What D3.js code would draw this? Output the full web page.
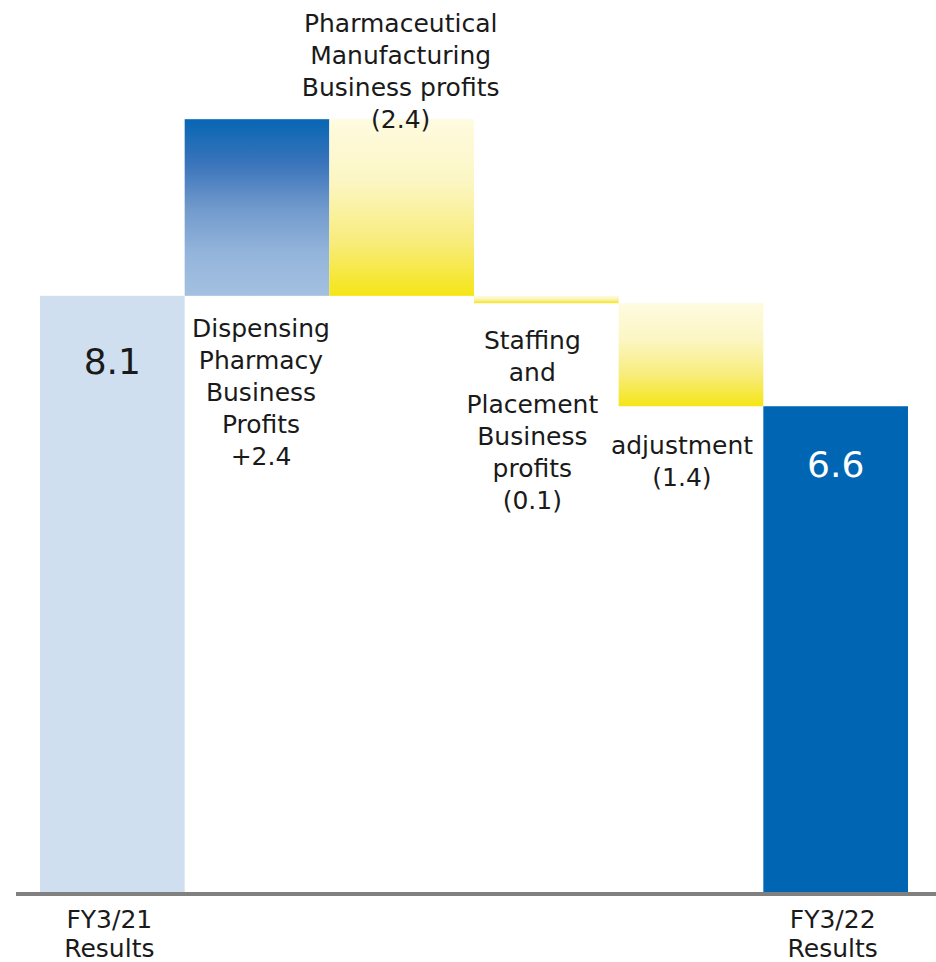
<!DOCTYPE html>
<html>
<head>
<meta charset="utf-8">
<script src="https://cdn.jsdelivr.net/npm/d3@7/dist/d3.min.js"></script>
<style>
  html, body { margin: 0; padding: 0; background: #fff; }
  svg { display: block; }
  text { font-family: "DejaVu Sans", Verdana, sans-serif; fill: #1a1a1a; }
</style>
</head>
<body>
<svg id="chart" width="936" height="962"></svg>
<script>
// Operating profit bridge, FY3/21 -> FY3/22 (billion yen)
const categories = ["FY3/21", "Dispensing", "Pharmaceutical", "Staffing", "Adjustment", "FY3/22"];
const changes = [8.1, 2.4, -2.4, -0.1, -1.4, 6.6];
const kinds = ["total", "up", "down", "down", "down", "total"];
const labelLines = [
  ["8.1"],
  ["Dispensing", "Pharmacy", "Business", "Profits", "+2.4"],
  ["Pharmaceutical", "Manufacturing", "Business profits", "(2.4)"],
  ["Staffing", "and", "Placement", "Business", "profits", "(0.1)"],
  ["adjustment", "(1.4)"],
  ["6.6"]
];
const tickLabels = [["FY3/21", "Results"], [], [], [], [], ["FY3/22", "Results"]];

// Running totals give each bar its start and end
let running = 0;
const bars = categories.map((c, i) => {
  let y0, y1;
  if (kinds[i] === "total") { y0 = 0; y1 = changes[i]; running = changes[i]; }
  else { y0 = running; y1 = running + changes[i]; running = y1; }
  return { i, cat: c, kind: kinds[i], lo: Math.min(y0, y1), hi: Math.max(y0, y1) };
});

const svg = d3.select("#chart");
const baseY = 892;
const x = d3.scaleBand().domain(d3.range(categories.length)).range([40, 908]).padding(0);
const y = d3.scaleLinear().domain([0, 10.5]).range([baseY, baseY - 10.5 * 73.6]);

const defs = svg.append("defs");
const blueGrad = defs.append("linearGradient").attr("id", "gBlue")
  .attr("x1", 0).attr("y1", 0).attr("x2", 0).attr("y2", 1);
[[0, "#0766b4"], [0.25, "#3a74bb"], [0.5, "#7099cc"], [0.75, "#93b4da"], [1, "#a3c0e0"]]
  .forEach(([o, c]) => blueGrad.append("stop").attr("offset", o).attr("stop-color", c));
const yellowGrad = defs.append("linearGradient").attr("id", "gYellow")
  .attr("x1", 0).attr("y1", 0).attr("x2", 0).attr("y2", 1);
[[0, "#fefbe0"], [0.35, "#fcf6c4"], [0.7, "#f8ec7a"], [1, "#f5e516"]]
  .forEach(([o, c]) => yellowGrad.append("stop").attr("offset", o).attr("stop-color", c));

const fillFor = d => {
  if (d.kind === "total") return d.i === 0 ? "#cfdfef" : "#0066b3";
  return d.kind === "up" ? "url(#gBlue)" : "url(#gYellow)";
};

svg.append("g").selectAll("rect").data(bars).join("rect")
  .attr("x", d => x(d.i))
  .attr("width", x.bandwidth())
  .attr("y", d => y(d.hi))
  .attr("height", d => y(d.lo) - y(d.hi))
  .attr("fill", fillFor);

// Baseline
svg.append("line")
  .attr("x1", 16).attr("x2", 936)
  .attr("y1", baseY + 2).attr("y2", baseY + 2)
  .attr("stroke", "#808080").attr("stroke-width", 4);

// Category labels under the axis
const lh = 32;
bars.forEach(d => {
  tickLabels[d.i].forEach((t, k) => {
    svg.append("text")
      .attr("x", x(d.i) + x.bandwidth() / 2 - 3)
      .attr("y", baseY + 36 + k * 29)
      .attr("text-anchor", "middle")
      .attr("font-size", 25)
      .text(t);
  });
});

// Value and description labels
function drawLines(lines, cx, firstBaseline, size, color) {
  lines.forEach((t, k) => {
    svg.append("text")
      .attr("x", cx).attr("y", firstBaseline + k * lh)
      .attr("text-anchor", "middle")
      .attr("font-size", size)
      .style("fill", color || "#1a1a1a")
      .text(t);
  });
}
const cx = i => x(i) + x.bandwidth() / 2;
// totals: inside the bar
drawLines(labelLines[0], cx(0), y(bars[0].hi) + 78, 36);
drawLines(labelLines[5], cx(5), y(bars[5].hi) + 71, 36, "#ffffff");
// increase: below the bar
drawLines(labelLines[1], cx(1) + 4, y(bars[1].lo) + 41, 25);
// decreases
drawLines(labelLines[2], cx(2) - 1, y(bars[2].hi) + 9 - (labelLines[2].length - 1) * lh, 25);
drawLines(labelLines[3], cx(3) - 14, y(bars[3].lo) + 46, 25);
drawLines(labelLines[4], cx(4) - 9, y(bars[4].lo) + 48, 25);
</script>
</body>
</html>
